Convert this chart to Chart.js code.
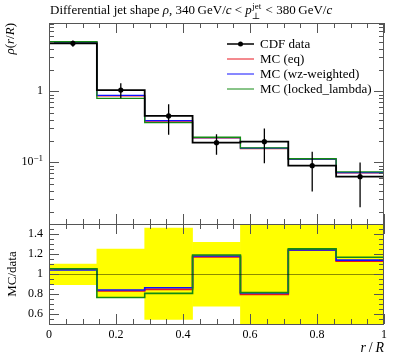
<!DOCTYPE html>
<html>
<head>
<meta charset="utf-8">
<script src="https://cdn.jsdelivr.net/npm/chart.js@4.4.1/dist/chart.umd.min.js"></script>
<style>
  html, body { margin: 0; padding: 0; background: #fff; }
  #wrap { position: relative; width: 397px; height: 358px; }
  #wrap canvas { position: absolute; left: 0; top: 0; }
</style>
</head>
<body>
<div id="wrap">
  <canvas id="mainChart" width="397" height="358"></canvas>
  <canvas id="ratioChart" width="397" height="358"></canvas>
</div>
<script>
(function() {
  'use strict';

  // bins in r/R
  const binEdges = [0, 0.1429, 0.2857, 0.4286, 0.5714, 0.7143, 0.8571, 1];
  const binCenters = [0.0714, 0.2143, 0.3571, 0.5, 0.6429, 0.7857, 0.9286];

  // CDF data and its error band
  const cdfRho = [4.74, 1.04, 0.449, 0.189, 0.195, 0.0895, 0.0627];
  const cdfUp = [5.21, 1.30, 0.655, 0.249, 0.30, 0.141, 0.099];
  const cdfDown = [4.23, 0.80, 0.245, 0.128, 0.097, 0.0386, 0.0233];

  // MC predictions
  const mcEq = [4.98, 0.863, 0.380, 0.221, 0.155, 0.111, 0.0707];
  const mcWz = [4.93, 0.874, 0.387, 0.223, 0.158, 0.111, 0.0714];
  const mcLocked = [4.99, 0.796, 0.362, 0.225, 0.159, 0.112, 0.0732];

  // axis labels
  const xTickLabels = ['0', '0.2', '0.4', '0.6', '0.8', '1'];
  const ratioTickLabels = ['0.6', '0.8', '1', '1.2', '1.4'];

  const SERIF = '"Liberation Serif", "DejaVu Serif", serif';
  const RED = '#e8141e', BLUE = '#1010ff', GREEN = '#138a13';

  function steps(vals) {
    const pts = [];
    vals.forEach((v, i) => {
      pts.push({ x: binEdges[i], y: v });
      pts.push({ x: binEdges[i + 1], y: v });
    });
    return pts;
  }

  function ratio(vals) {
    return vals.map((v, i) => v / cdfRho[i]);
  }

  function errorBars() {
    const pts = [];
    binCenters.forEach((c, i) => {
      pts.push({ x: c, y: cdfDown[i] });
      pts.push({ x: c, y: cdfUp[i] });
      pts.push({ x: c, y: null });
    });
    return pts;
  }

  function stepLine(label, vals, color, width) {
    return {
      type: 'line', label: label, data: steps(vals),
      borderColor: color, borderWidth: width, pointRadius: 0,
      fill: false, tension: 0
    };
  }

  function drawText(ctx, parts, x, y) {
    // parts: [text, italic, size, dy]
    let cx = x;
    parts.forEach(p => {
      ctx.font = (p[1] ? 'italic ' : '') + (p[2] || 13) + 'px ' + SERIF;
      ctx.fillText(p[0], cx, y + (p[3] || 0));
      cx += ctx.measureText(p[0]).width;
    });
    return cx;
  }

  function textWidth(ctx, parts) {
    let w = 0;
    parts.forEach(p => {
      ctx.font = (p[1] ? 'italic ' : '') + (p[2] || 13) + 'px ' + SERIF;
      w += ctx.measureText(p[0]).width;
    });
    return w;
  }

  function line(ctx, x1, y1, x2, y2) {
    ctx.beginPath(); ctx.moveTo(x1, y1); ctx.lineTo(x2, y2); ctx.stroke();
  }

  function frameAndTicks(chart, yTicks) {
    const ctx = chart.ctx, a = chart.chartArea;
    const xs = chart.scales.x, ys = chart.scales.y;
    ctx.save();
    ctx.strokeStyle = '#555';
    ctx.lineWidth = 1;
    for (let k = 0; k <= 20; k++) {
      const px = Math.round(xs.getPixelForValue(k * 0.05)) + 0.5;
      const len = k % 4 === 0 ? 10 : 5;
      line(ctx, px, a.bottom, px, a.bottom - len);
      line(ctx, px, a.top, px, a.top + len);
    }
    yTicks.forEach(t => {
      const py = Math.round(ys.getPixelForValue(t.v)) + 0.5;
      const len = t.major ? 10 : 5;
      line(ctx, a.left, py, a.left + len, py);
      line(ctx, a.right, py, a.right - len, py);
    });
    ctx.strokeRect(Math.round(a.left) + 0.5, Math.round(a.top) + 0.5,
      Math.round(a.right - a.left) - 1, Math.round(a.bottom - a.top));
    ctx.restore();
  }

  const mainPlugin = {
    id: 'mainDecor',
    afterDraw(chart) {
      const ctx = chart.ctx, a = chart.chartArea, ys = chart.scales.y;
      const yTicks = [];
      [-2, -1, 0].forEach(d => {
        for (let m = 1; m <= 9; m++) {
          const v = m * Math.pow(10, d);
          if (v >= ys.min && v <= ys.max) yTicks.push({ v: v, major: m === 1 });
        }
      });
      frameAndTicks(chart, yTicks);

      ctx.save();
      ctx.fillStyle = '#000';
      ctx.textBaseline = 'middle';
      // y tick labels
      ctx.font = '12px ' + SERIF;
      ctx.textAlign = 'right';
      ctx.fillText('1', 43, ys.getPixelForValue(1));
      ctx.textAlign = 'left';
      const y01 = ys.getPixelForValue(0.1);
      const lw = textWidth(ctx, [['10', false, 12], ['\u22121', false, 9]]);
      drawText(ctx, [['10', false, 12], ['\u22121', false, 9, -4]], 43 - lw, y01);

      // title
      ctx.textBaseline = 'alphabetic';
      let x = drawText(ctx, [
        ['Differential jet shape ', false, 13], ['\u03c1', true, 13],
        [', 340\u2009GeV/', false, 13], ['c', true, 13], [' < ', false, 13], ['p', true, 13]
      ], 50, 14);
      ctx.font = '9px ' + SERIF;
      ctx.fillText('jet', x + 0.5, 9);
      ctx.fillText('\u22a5', x, 19);
      x += ctx.measureText('jet').width + 1.5;
      drawText(ctx, [[' < 380\u2009GeV/', false, 13], ['c', true, 13]], x, 14);

      // y title
      ctx.save();
      ctx.translate(14, 23);
      ctx.rotate(-Math.PI / 2);
      const tparts = [['\u03c1', true, 13], ['(', false, 13], ['r', true, 13], ['/', false, 13], ['R', true, 13], [')', false, 13]];
      const tw = textWidth(ctx, tparts);
      drawText(ctx, tparts, -tw, 0);
      ctx.restore();

      // legend
      const rows = [
        { label: 'CDF data', color: '#000', dot: true },
        { label: 'MC (eq)', color: RED },
        { label: 'MC (wz-weighted)', color: BLUE },
        { label: 'MC (locked_lambda)', color: GREEN }
      ];
      ctx.textBaseline = 'middle';
      ctx.font = '13px ' + SERIF;
      rows.forEach((r, i) => {
        const y = 44 + i * 15;
        ctx.strokeStyle = r.color;
        ctx.lineWidth = r.dot ? 1.5 : 1;
        line(ctx, 227, y, 254, y);
        if (r.dot) {
          ctx.fillStyle = '#000';
          ctx.beginPath(); ctx.arc(240.5, y, 2.5, 0, Math.PI * 2); ctx.fill();
        }
        ctx.fillStyle = '#000';
        ctx.fillText(r.label, 260, y + 1);
      });
      ctx.restore();
    }
  };

  const ratioPlugin = {
    id: 'ratioDecor',
    afterDraw(chart) {
      const ctx = chart.ctx, a = chart.chartArea, xs = chart.scales.x, ys = chart.scales.y;
      ctx.save();
      // reference line at 1
      ctx.strokeStyle = 'rgba(0,0,0,0.45)';
      ctx.lineWidth = 1;
      const y1 = Math.round(ys.getPixelForValue(1)) + 0.5;
      line(ctx, a.left, y1, a.right, y1);
      ctx.restore();

      const yTicks = [];
      for (let k = 10; k <= 30; k++) {
        yTicks.push({ v: k * 0.05, major: k % 4 === 0 });
      }
      frameAndTicks(chart, yTicks);

      ctx.save();
      ctx.fillStyle = '#000';
      ctx.font = '12px ' + SERIF;
      ctx.textAlign = 'right';
      ctx.textBaseline = 'middle';
      ratioTickLabels.forEach(t => ctx.fillText(t, 43, ys.getPixelForValue(parseFloat(t))));
      ctx.textAlign = 'center';
      ctx.textBaseline = 'top';
      xTickLabels.forEach(t => ctx.fillText(t, xs.getPixelForValue(parseFloat(t)), 329));

      // axis titles
      ctx.textAlign = 'left';
      ctx.textBaseline = 'alphabetic';
      const xparts = [['r', true, 14], ['\u2009/\u2009', false, 14], ['R', true, 14]];
      drawText(ctx, xparts, a.right - textWidth(ctx, xparts), 352);

      ctx.save();
      ctx.translate(16, 274);
      ctx.rotate(-Math.PI / 2);
      ctx.textAlign = 'center';
      ctx.font = '13px ' + SERIF;
      ctx.fillText('MC/data', 0, 0);
      ctx.restore();
      ctx.restore();
    }
  };

  const xScale = { type: 'linear', min: 0, max: 1, display: false, offset: false };

  new Chart(document.getElementById('mainChart'), {
    type: 'line',
    data: {
      datasets: [
        {
          type: 'line', label: 'CDF data', data: binCenters.map((c, i) => ({ x: c, y: cdfRho[i] })),
          showLine: false, pointRadius: 2.6, pointBackgroundColor: '#000', pointBorderWidth: 0
        },
        {
          type: 'line', label: 'CDF errors', data: errorBars(),
          borderColor: '#000', borderWidth: 1.3, pointRadius: 0, spanGaps: false
        },
        stepLine('CDF data step', cdfRho, '#000', 1.8),
        stepLine('MC (locked_lambda)', mcLocked, GREEN, 1.3),
        stepLine('MC (wz-weighted)', mcWz, BLUE, 1.2),
        stepLine('MC (eq)', mcEq, RED, 1.2)
      ]
    },
    options: {
      responsive: false,
      animation: false,
      devicePixelRatio: 1,
      layout: { padding: { left: 49, right: 13, top: 23, bottom: 134 } },
      plugins: { legend: { display: false }, tooltip: { enabled: false } },
      scales: {
        x: xScale,
        y: { type: 'logarithmic', min: 0.0135, max: 9.16, display: false }
      }
    },
    plugins: [mainPlugin]
  });

  new Chart(document.getElementById('ratioChart'), {
    type: 'line',
    data: {
      datasets: [
        stepLine('MC (locked_lambda)', ratio(mcLocked), GREEN, 1.6),
        stepLine('MC (wz-weighted)', ratio(mcWz), BLUE, 1.6),
        stepLine('MC (eq)', ratio(mcEq), RED, 1.6),
        {
          type: 'bar', label: 'data uncertainty',
          data: binCenters.map((c, i) => ({ x: c, y: [cdfDown[i] / cdfRho[i], cdfUp[i] / cdfRho[i]] })),
          backgroundColor: '#ffff00', borderWidth: 0,
          barPercentage: 1, categoryPercentage: 1
        }
      ]
    },
    options: {
      responsive: false,
      animation: false,
      devicePixelRatio: 1,
      layout: { padding: { left: 49, right: 13, top: 224, bottom: 34 } },
      plugins: { legend: { display: false }, tooltip: { enabled: false } },
      scales: {
        x: xScale,
        y: { type: 'linear', min: 0.5, max: 1.5, display: false }
      }
    },
    plugins: [ratioPlugin]
  });
})();
</script>
</body>
</html>
